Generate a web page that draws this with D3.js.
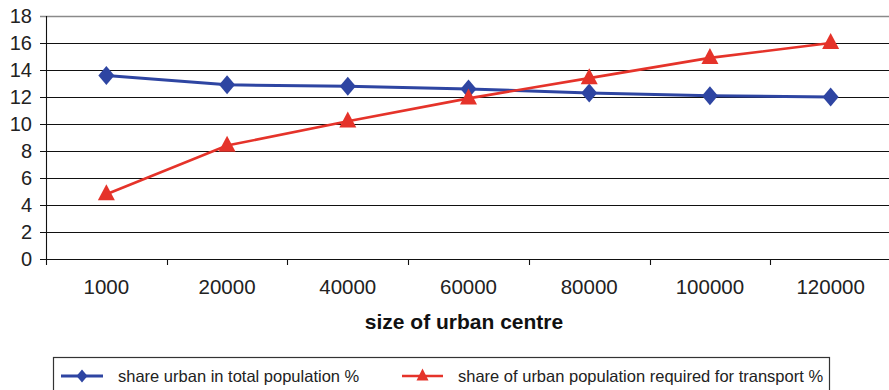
<!DOCTYPE html>
<html>
<head>
<meta charset="utf-8">
<script src="https://cdn.jsdelivr.net/npm/d3@7"></script>
<style>
  html, body { margin: 0; padding: 0; background: #fff; }
  svg { display: block; font-family: "Liberation Sans", Arial, sans-serif; }
</style>
</head>
<body>
<svg id="chart" width="889" height="390"></svg>
<script>
// Urban centre sizes (categories on the x axis)
const categories = ["1000", "20000", "40000", "60000", "80000", "100000", "120000"];
// Share of urban population in total population, %
const shareUrban = [13.6, 12.9, 12.8, 12.6, 12.3, 12.1, 12.0];
// Share of urban population required for transport, %
const shareTransport = [4.8, 8.4, 10.2, 11.9, 13.4, 14.9, 16.0];
// Value axis ticks
const yTicks = [0, 2, 4, 6, 8, 10, 12, 14, 16, 18];

const seriesNames = [
  "share urban in total population %",
  "share of urban population required for transport %"
];
const blue = "#2e45a2";
const red = "#e5332a";

const svg = d3.select("#chart");

const x = d3.scaleBand().domain(categories).range([46, 891]);
const y = d3.scaleLinear().domain([0, 18]).range([259, 16]);

// Horizontal gridlines (the top one is lighter, as the plot frame)
svg.append("g")
  .selectAll("line")
  .data(yTicks)
  .join("line")
  .attr("x1", 40)
  .attr("x2", 889)
  .attr("y1", d => Math.round(y(d)) + 0.5)
  .attr("y2", d => Math.round(y(d)) + 0.5)
  .attr("stroke", d => d === 18 ? "#8a8a8a" : "#111")
  .attr("stroke-width", d => d === 18 ? 1.6 : 1.1);

// Y axis labels
const yAxis = d3.axisLeft(y).tickValues(yTicks).tickSize(0).tickPadding(14);
const gy = svg.append("g").attr("transform", "translate(46,0)").call(yAxis);
gy.select(".domain").remove();
gy.selectAll("text")
  .attr("font-size", 20)
  .attr("fill", "#222")
  .attr("font-family", "'Liberation Sans', Arial, sans-serif");

// Vertical axis line
svg.append("line")
  .attr("x1", 46.5).attr("x2", 46.5)
  .attr("y1", y(18)).attr("y2", 265)
  .attr("stroke", "#111").attr("stroke-width", 1.1);

// X axis: ticks at category boundaries, labels centred in bands
const xBounds = categories.map(c => x(c)).slice(1);
svg.append("g")
  .selectAll("line")
  .data(xBounds)
  .join("line")
  .attr("x1", d => Math.round(d) + 0.5)
  .attr("x2", d => Math.round(d) + 0.5)
  .attr("y1", 259)
  .attr("y2", 265)
  .attr("stroke", "#111").attr("stroke-width", 1.1);

svg.append("g")
  .selectAll("text")
  .data(categories)
  .join("text")
  .attr("x", d => x(d) + x.bandwidth() / 2)
  .attr("y", 294)
  .attr("text-anchor", "middle")
  .attr("font-size", 20.5)
  .attr("fill", "#222")
  .text(d => d);

// X axis title
svg.append("text")
  .attr("x", 464)
  .attr("y", 329)
  .attr("text-anchor", "middle")
  .attr("font-size", 21)
  .attr("font-weight", "bold")
  .attr("fill", "#111")
  .text("size of urban centre");

const cx = d => x(d) + x.bandwidth() / 2;
const line = d3.line().x(d => cx(d.c)).y(d => y(d.v));

const blueData = categories.map((c, i) => ({ c, v: shareUrban[i] }));
const redData = categories.map((c, i) => ({ c, v: shareTransport[i] }));

const diamond = (w, h) => `M0,${-h}L${w},0L0,${h}L${-w},0Z`;
const triangle = (w, h) => `M0,${-h * 0.62}L${w / 2},${h * 0.38}L${-w / 2},${h * 0.38}Z`;

// Blue series
svg.append("path")
  .datum(blueData)
  .attr("d", line)
  .attr("fill", "none")
  .attr("stroke", blue)
  .attr("stroke-width", 3);

svg.append("g")
  .selectAll("path")
  .data(blueData)
  .join("path")
  .attr("transform", d => `translate(${cx(d.c)},${y(d.v)})`)
  .attr("d", diamond(8, 9.5))
  .attr("fill", blue);

// Red series
svg.append("path")
  .datum(redData)
  .attr("d", line)
  .attr("fill", "none")
  .attr("stroke", red)
  .attr("stroke-width", 2.6);

svg.append("g")
  .selectAll("path")
  .data(redData)
  .join("path")
  .attr("transform", d => `translate(${cx(d.c)},${y(d.v)})`)
  .attr("d", triangle(17, 16))
  .attr("fill", red);

// Legend
svg.append("rect")
  .attr("x", 53.5).attr("y", 357.5)
  .attr("width", 776).attr("height", 60)
  .attr("fill", "none")
  .attr("stroke", "#333").attr("stroke-width", 1.2);

const legend = [
  { name: seriesNames[0], color: blue, x0: 61, x1: 103, tx: 118, shape: diamond(5.5, 6.5), sw: 3 },
  { name: seriesNames[1], color: red, x0: 402, x1: 443, tx: 458, shape: triangle(12, 12), sw: 2.6 }
];
const lg = svg.append("g")
  .selectAll("g")
  .data(legend)
  .join("g");
lg.append("line")
  .attr("x1", d => d.x0).attr("x2", d => d.x1)
  .attr("y1", 376).attr("y2", 376)
  .attr("stroke", d => d.color).attr("stroke-width", d => d.sw);
lg.append("path")
  .attr("transform", d => `translate(${(d.x0 + d.x1) / 2},376)`)
  .attr("d", d => d.shape)
  .attr("fill", d => d.color);
lg.append("text")
  .attr("x", d => d.tx)
  .attr("y", 382)
  .attr("font-size", 16.5)
  .attr("fill", "#222")
  .text(d => d.name);
</script>
</body>
</html>
